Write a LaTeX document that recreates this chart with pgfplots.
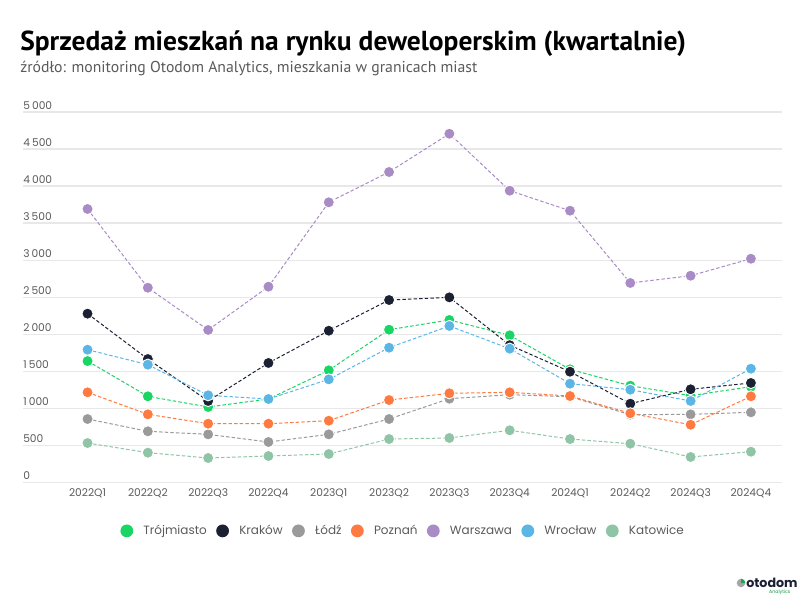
\documentclass[border=0pt]{standalone}
\usepackage{pgfplots}
\pgfplotsset{compat=1.18}
\usepackage{pgfplotstable}
\usepackage{fontspec}
\setmainfont{Poppins}
\newfontfamily\titlefont{PT Sans}

\definecolor{cTro}{HTML}{19D563}
\definecolor{cKra}{HTML}{1B2133}
\definecolor{cLod}{HTML}{9A9A9A}
\definecolor{cPoz}{HTML}{FF7A40}
\definecolor{cWar}{HTML}{A98BC6}
\definecolor{cWro}{HTML}{5BB6E5}
\definecolor{cKat}{HTML}{8FC4A6}
\definecolor{gridc}{HTML}{E8E8E8}
\definecolor{labc}{HTML}{5A5A5A}

\pgfplotstableread{
i tro kra lod poz war wro kat
0 1641 2280 859 1219 3692 1794 535
1 1165 1668 693 922 2630 1592 405
2 1021 1102 652 796 2060 1179 333
3 1129 1615 549 796 2644 1129 360
4 1516 2050 652 836 3782 1394 387
5 2064 2464 859 1115 4191 1821 589
6 2195 2500 1133 1206 4707 2114 603
7 1988 1855 1187 1219 3939 1808 707
8 1529 1497 1160 1169 3669 1336 589
9 1308 1066 917 936 2694 1254 526
10 1174 1260 922 782 2792 1102 347
11 1295 1345 949 1165 3021 1538 418
}\data

\pgfplotsset{
  city/.style={color=#1, line width=0.75pt, dash pattern=on 2.6pt off 1.6pt,
    mark=*, mark size=4.2pt,
    mark options={solid, draw=white, fill=#1, line width=0.7pt}},
}

\begin{document}
\begin{tikzpicture}
\path[use as bounding box] (0,0) rectangle (604.5pt,450pt);
\node[anchor=base west, inner sep=0pt, font=\titlefont\bfseries\fontsize{20.6pt}{24pt}\selectfont] at (15pt,412pt) {Sprzedaż mieszkań na rynku deweloperskim (kwartalnie)};
\node[anchor=base west, inner sep=0pt, text=labc, font=\titlefont\fontsize{11.8pt}{13pt}\selectfont] at (15pt,395.5pt) {źródło: monitoring Otodom Analytics, mieszkania w granicach miast};

\begin{axis}[
  at={(17.25pt,87.98pt)}, anchor=south west,
  scale only axis, width=569pt, height=278pt,
  xmin=-1.07, xmax=11.51, ymin=0, ymax=5000,
  axis line style={draw=none},
  tick style={draw=none},
  xtick={0,...,11},
  xticklabels={2022Q1,2022Q2,2022Q3,2022Q4,2023Q1,2023Q2,2023Q3,2023Q4,2024Q1,2024Q2,2024Q3,2024Q4},
  ytick={0,500,...,5000},
  ymajorgrids,
  major grid style={draw=gridc, line width=1.1pt},
  /pgf/number format/assume math mode=true,
  /pgf/number format/1000 sep={\hspace{0.2em}},
  yticklabel style={anchor=south west, inner sep=0pt, yshift=2pt, text=labc, font=\fontsize{8pt}{9pt}\selectfont},
  xticklabel style={anchor=north, inner sep=0pt, yshift=-4.5pt, text=labc, font=\fontsize{8pt}{9pt}\selectfont},
  clip=false,
  legend style={at={(0.5015,-0.130)}, anchor=center, draw=none, fill=none,
    legend columns=7, font=\fontsize{9pt}{11pt}\selectfont, text=labc,
    /tikz/every even column/.append style={column sep=5pt}},
  legend cell align=left,
  legend image code/.code={%
    \path[draw=none, fill=none] (-4.8pt,0pt) rectangle (10.5pt,0pt);
    \fill[draw=none, fill=.] (0pt,0pt) circle (4.8pt);},
]
\addplot[city=cTro] table[x=i,y=tro] {\data}; \addlegendentry{Trójmiasto}
\addplot[city=cKra] table[x=i,y=kra] {\data}; \addlegendentry{Kraków}
\addplot[city=cLod] table[x=i,y=lod] {\data}; \addlegendentry{Łódź}
\addplot[city=cPoz] table[x=i,y=poz] {\data}; \addlegendentry{Poznań}
\addplot[city=cWar] table[x=i,y=war] {\data}; \addlegendentry{Warszawa}
\addplot[city=cWro] table[x=i,y=wro] {\data}; \addlegendentry{Wrocław}
\addplot[city=cKat] table[x=i,y=kat] {\data}; \addlegendentry{Katowice}
\end{axis}

% logo
\fill[gray!70] (555.75pt,12.75pt) circle (3.2pt);
\fill[cTro!80!black] (555.75pt,12.75pt) -- (555.75pt,15.95pt) arc (90:0:3.2pt) -- cycle;
\node[anchor=west, inner sep=0pt, font=\bfseries\fontsize{9.5pt}{10pt}\selectfont, text=cKra] at (559.5pt,13pt) {otodom};
\node[anchor=east, inner sep=0pt, font=\fontsize{3.5pt}{4pt}\selectfont, text=cTro!70!black] at (593pt,5.5pt) {Analytics};
\end{tikzpicture}
\end{document}
